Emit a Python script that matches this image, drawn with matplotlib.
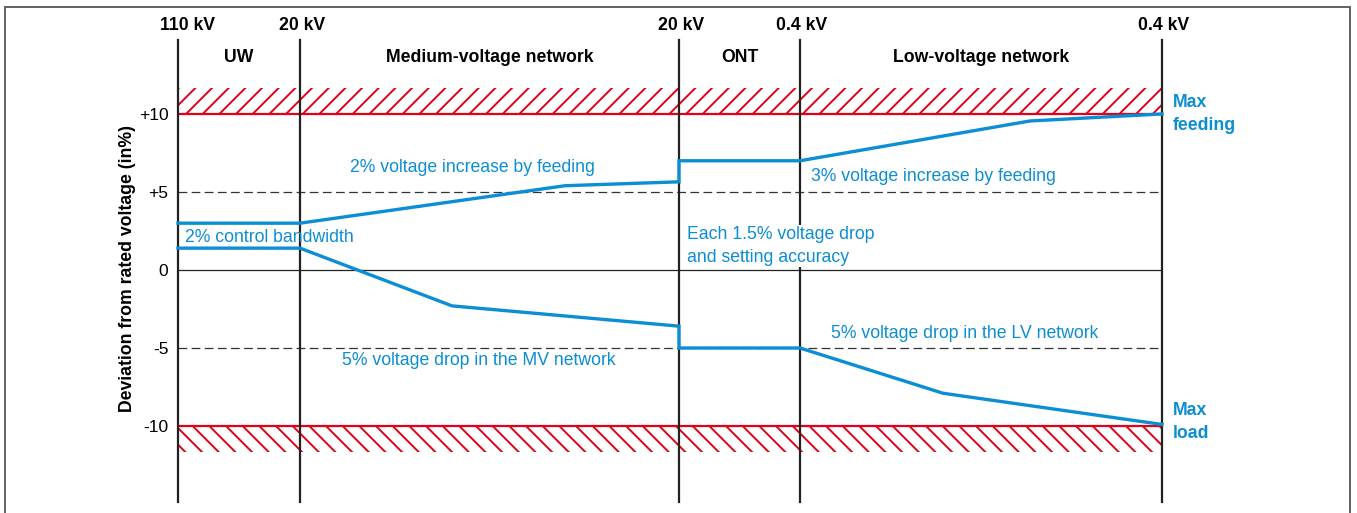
import numpy as np
import matplotlib.pyplot as plt
from matplotlib.patches import Rectangle

plt.rcParams['font.family'] = ['Liberation Sans', 'DejaVu Sans']
plt.rcParams['hatch.linewidth'] = 1.4

### ~~~~~~~~~~~~~~~~~~~~~~~~~~~~~~~~~~~~~~~ ###
# network nodes (schematic distance along the feeder)
node_x = [0, 122, 501, 622, 984]
node_kv = ['110 kV', '20 kV', '20 kV', '0.4 kV', '0.4 kV']
sections = ['UW', 'Medium-voltage network', 'ONT', 'Low-voltage network']

# voltage profile, max feeding / max load (deviation in %)
feed_x = [0, 122, 387, 501, 501, 622, 852, 984]
feed_y = [3.0, 3.0, 5.4, 5.65, 7.0, 7.0, 9.55, 10.0]
load_x = [0, 122, 274, 501, 501, 622, 765, 984]
load_y = [1.4, 1.4, -2.3, -3.6, -5.0, -5.0, -7.9, -9.9]

yticks = [10, 5, 0, -5, -10]
ytick_labels = ['+10', '+5', '0', '-5', '-10']
limit = 10
band = 1.65

BLUE = '#0b8ed3'
RED = '#e2001a'

### ~~~~~~~~~~~~~~~~~~~~~~~~~~~~~~~~~~~~~~~ ###
fig = plt.figure(figsize=(13.57, 5.13), dpi=100)
ax = fig.add_axes([178/1357, 11/513, 984/1357, 462/513])
ax.set_xlim(0, 984)
ax.set_ylim(-14.87, 14.74)
for s in ax.spines.values():
    s.set_visible(False)
ax.set_xticks([])
ax.set_yticks(yticks)
ax.set_yticklabels(ytick_labels, fontsize=12.5)
ax.tick_params(axis='y', length=0, pad=7)

# outer frame
fig.patches.append(Rectangle((5/1357, -0.05), 1345/1357, 1.05 - 7/513,
                             transform=fig.transFigure, fill=False,
                             edgecolor='#555555', lw=1.3))

# limit bands
x0, x1 = node_x[0], node_x[-1]
ax.add_patch(Rectangle((x0, limit), x1 - x0, band, facecolor='none',
                       edgecolor=RED, lw=0, hatch='//', zorder=1))
ax.add_patch(Rectangle((x0, -limit - band), x1 - x0, band, facecolor='none',
                       edgecolor=RED, lw=0, hatch='\\\\', zorder=1))
ax.hlines([limit, -limit], x0, x1, color=RED, lw=1.6, zorder=2)
ax.hlines([5, -5], x0, x1, color='#333333', lw=0.9, linestyles=(0, (7, 3.5)), zorder=2)
ax.hlines(0, x0, x1, color='#222222', lw=0.9, zorder=2)

for x in node_x:
    ax.axvline(x, color='#222222', lw=1.6, zorder=3, clip_on=False)

ax.plot(feed_x, feed_y, color=BLUE, lw=2.4, zorder=4, solid_joinstyle='miter', clip_on=False)
ax.plot(load_x, load_y, color=BLUE, lw=2.4, zorder=4, solid_joinstyle='miter', clip_on=False)

### ~~~~~~~~~~~~~~~~~~~~~~~~~~~~~~~~~~~~~~~ ###
for i, (x, lab) in enumerate(zip(node_x, node_kv)):
    dx = 10 if i == 0 else 2
    ax.text(x + dx, 15.7, lab, ha='center', va='center', fontsize=12.7,
            fontweight='bold', clip_on=False)
for i, lab in enumerate(sections):
    xm = (node_x[i] + node_x[i + 1]) / 2
    ax.text(xm, 13.65, lab, ha='center', va='center', fontsize=12.7, fontweight='bold')

tk = dict(color=BLUE, fontsize=12.7, va='center', zorder=5)
ax.text(172, 6.54, '2% voltage increase by feeding', ha='left', **tk)
ax.text(633, 5.96, '3% voltage increase by feeding', ha='left', **tk)
ax.text(7, 2.05, '2% control bandwidth', ha='left', **tk)
ax.text(509, 1.54, 'Each 1.5% voltage drop\nand setting accuracy', ha='left',
        linespacing=1.4, bbox=dict(fc='white', ec='none', pad=1), **tk)
ax.text(653, -4.1, '5% voltage drop in the LV network', ha='left', **tk)
ax.text(164, -5.83, '5% voltage drop in the MV network', ha='left', **tk)

ax.text(995, 10.0, 'Max\nfeeding', ha='left', va='center', color=BLUE,
        fontsize=12.7, fontweight='bold', linespacing=1.45, clip_on=False)
ax.text(995, -9.75, 'Max\nload', ha='left', va='center', color=BLUE,
        fontsize=12.7, fontweight='bold', linespacing=1.45, clip_on=False)

fig.text(128/1357, 1 - 268/513, 'Deviation from rated voltage (in%)', rotation=90,
         ha='center', va='center', fontsize=12.7, fontweight='bold')

plt.savefig('out.png', dpi=100)
